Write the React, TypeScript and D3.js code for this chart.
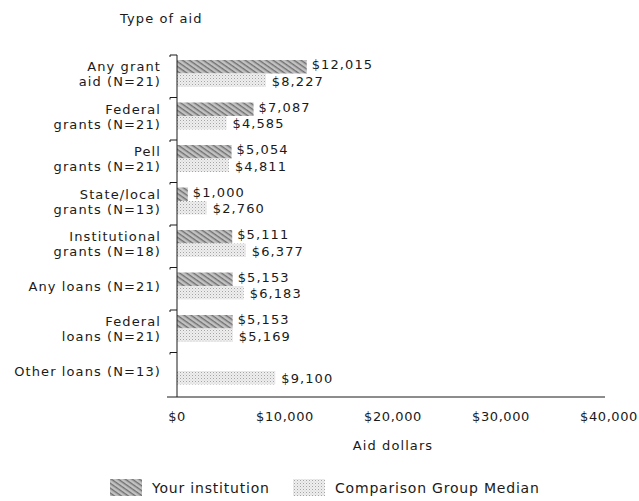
import * as d3 from "d3";

const categories = [
  "Any grant aid (N=21)",
  "Federal grants (N=21)",
  "Pell grants (N=21)",
  "State/local grants (N=13)",
  "Institutional grants (N=18)",
  "Any loans (N=21)",
  "Federal loans (N=21)",
  "Other loans (N=13)",
];
const labelLines = [
  ["Any grant", "aid (N=21)"],
  ["Federal", "grants (N=21)"],
  ["Pell", "grants (N=21)"],
  ["State/local", "grants (N=13)"],
  ["Institutional", "grants (N=18)"],
  ["Any loans (N=21)"],
  ["Federal", "loans (N=21)"],
  ["Other loans (N=13)"],
];
const institution: (number | null)[] = [12015, 7087, 5054, 1000, 5111, 5153, 5153, null];
const comparison: (number | null)[] = [8227, 4585, 4811, 2760, 6377, 6183, 5169, 9100];
const xTicks = [0, 10000, 20000, 30000, 40000];
const seriesNames = ["Your institution", "Comparison Group Median"];

const W = 639;
const H = 501;
const font = "'DejaVu Sans', Verdana, sans-serif";
const ink = "#1a1a1a";

export default function App() {
  const x = d3.scaleLinear().domain([0, 40000]).range([177, 609]);
  const y = d3.scaleBand().domain(categories).range([55, 395]).paddingInner(0);
  const inner = d3.scaleBand().domain(["inst", "comp"]).range([5, 32]);
  const fmt = (v: number) => "$" + d3.format(",")(v);
  const txt = { fontFamily: font, fontSize: 13, fill: ink, letterSpacing: 1.1 };

  return (
    <svg width={W} height={H} style={{ position: "absolute", left: 0, top: 0, background: "#fff" }}>
      <defs>
        <pattern id="dark" width="4" height="4" patternUnits="userSpaceOnUse" patternTransform="rotate(35)">
          <rect width="4" height="4" fill="#c2c2c2" />
          <rect width="4" height="1.4" fill="#707070" />
        </pattern>
        <pattern id="light" width="3" height="3" patternUnits="userSpaceOnUse">
          <rect width="3" height="3" fill="#eeeeee" />
          <rect width="1" height="1" fill="#a4a4a4" />
          <rect x="1.5" y="1.5" width="1" height="1" fill="#cccccc" />
        </pattern>
      </defs>

      <text x={120} y={23} {...txt}>Type of aid</text>

      {categories.map((c, i) => {
        const top = y(c)!;
        const cy = top + 19;
        const lines = labelLines[i];
        const inst = institution[i];
        const comp = comparison[i];
        return (
          <g key={c}>
            <line x1={170} x2={177} y1={top} y2={top} stroke={ink} />
            <line x1={170} x2={170} y1={top} y2={top + 2} stroke={ink} />
            {lines.map((l, j) => (
              <text key={j} x={161} y={cy + (j - (lines.length - 1) / 2) * 15} dy="0.36em"
                textAnchor="end" {...txt}>{l}</text>
            ))}
            {inst != null && (
              <g>
                <rect x={x(0)} y={top + inner("inst")!} width={x(inst) - x(0)} height={inner.bandwidth()} fill="url(#dark)" />
                <text x={x(inst) + 5} y={top + inner("inst")! + inner.bandwidth() / 2 - 2} dy="0.36em" {...txt}>{fmt(inst)}</text>
              </g>
            )}
            {comp != null && (
              <g>
                <rect x={x(0)} y={top + inner("comp")!} width={x(comp) - x(0)} height={inner.bandwidth()} fill="url(#light)" />
                <text x={x(comp) + 6} y={top + inner("comp")! + inner.bandwidth() / 2 + 1} dy="0.36em" {...txt}>{fmt(comp)}</text>
              </g>
            )}
          </g>
        );
      })}

      <line x1={177} x2={177} y1={55} y2={397} stroke={ink} />
      <line x1={167} x2={605} y1={397} y2={397} stroke={ink} />

      {xTicks.map((t) => (
        <text key={t} x={x(t)} y={421} textAnchor="middle" {...txt} letterSpacing={0.6}>{fmt(t)}</text>
      ))}

      <text x={(x(0) + x(40000)) / 2} y={450} textAnchor="middle" {...txt}>Aid dollars</text>

      {seriesNames.map((s, i) => {
        const lx = i === 0 ? 110 : 293;
        return (
          <g key={s}>
            <rect x={lx} y={479} width={32} height={17} fill={i === 0 ? "url(#dark)" : "url(#light)"} />
            <text x={lx + 42} y={488} dy="0.36em" {...txt} fontSize={14} letterSpacing={0.8}>{s}</text>
          </g>
        );
      })}
    </svg>
  );
}
